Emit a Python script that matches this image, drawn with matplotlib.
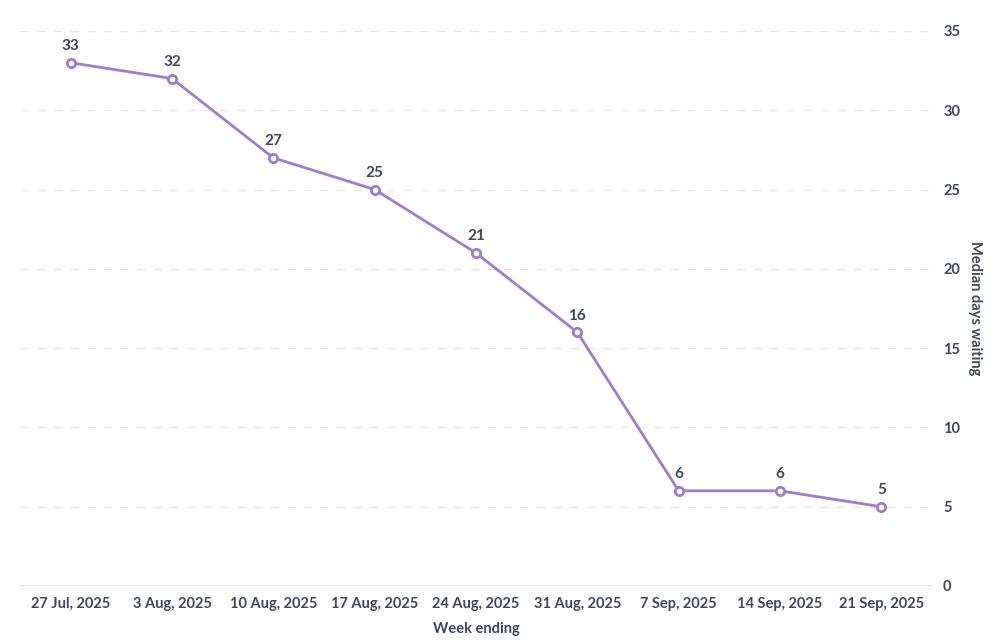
import matplotlib
matplotlib.use("Agg")
import matplotlib.pyplot as plt

weeks = ["27 Jul, 2025", "3 Aug, 2025", "10 Aug, 2025", "17 Aug, 2025", "24 Aug, 2025",
         "31 Aug, 2025", "7 Sep, 2025", "14 Sep, 2025", "21 Sep, 2025"]
median_days = [33, 32, 27, 25, 21, 16, 6, 6, 5]
y_ticks = [0, 5, 10, 15, 20, 25, 30, 35]

line_col = "#a07cc5"
text_col = "#3f4660"
grid_col = "#e6e6e6"

plt.rcParams["font.family"] = ["Lato", "DejaVu Sans"]

fig = plt.figure(figsize=(10, 6.4), dpi=100)
ax = fig.add_axes([0.02, 0.0844, 0.912, 0.8672])

x = list(range(len(weeks)))
ax.plot(x, median_days, color=line_col, lw=2, marker="o", ms=6,
        mfc="white", mec=line_col, mew=2, zorder=3, clip_on=False)
for xi, v in zip(x, median_days):
    ax.annotate(str(v), (xi, v), xytext=(0, 7), textcoords="offset points",
                ha="center", va="bottom", fontsize=11, fontweight="bold", color=text_col)

ax.set_xlim(-0.5, len(weeks) - 0.5)
ax.set_ylim(0, 35)
ax.set_xticks(x)
ax.set_xticklabels(weeks)
ax.set_yticks(y_ticks)

for t in y_ticks[1:]:
    ax.axhline(t, color=grid_col, lw=1, ls=(0, (6, 6)), zorder=1)
ax.axhline(0, color=grid_col, lw=1.5, zorder=1)

for s in ax.spines.values():
    s.set_visible(False)

ax.yaxis.tick_right()
ax.yaxis.set_label_position("right")
ax.tick_params(axis="both", length=0, labelsize=10.5, labelcolor=text_col)
ax.tick_params(axis="y", pad=8)
ax.tick_params(axis="x", pad=8)
for lab in ax.get_xticklabels() + ax.get_yticklabels():
    lab.set_fontweight("bold")

ax.set_xlabel("Week ending", fontsize=10.5, fontweight="bold", color=text_col, labelpad=8)
ax.set_ylabel("Median days waiting", fontsize=10.5, fontweight="bold", color=text_col,
              rotation=270, labelpad=16)

fig.savefig("out.png", dpi=100)
